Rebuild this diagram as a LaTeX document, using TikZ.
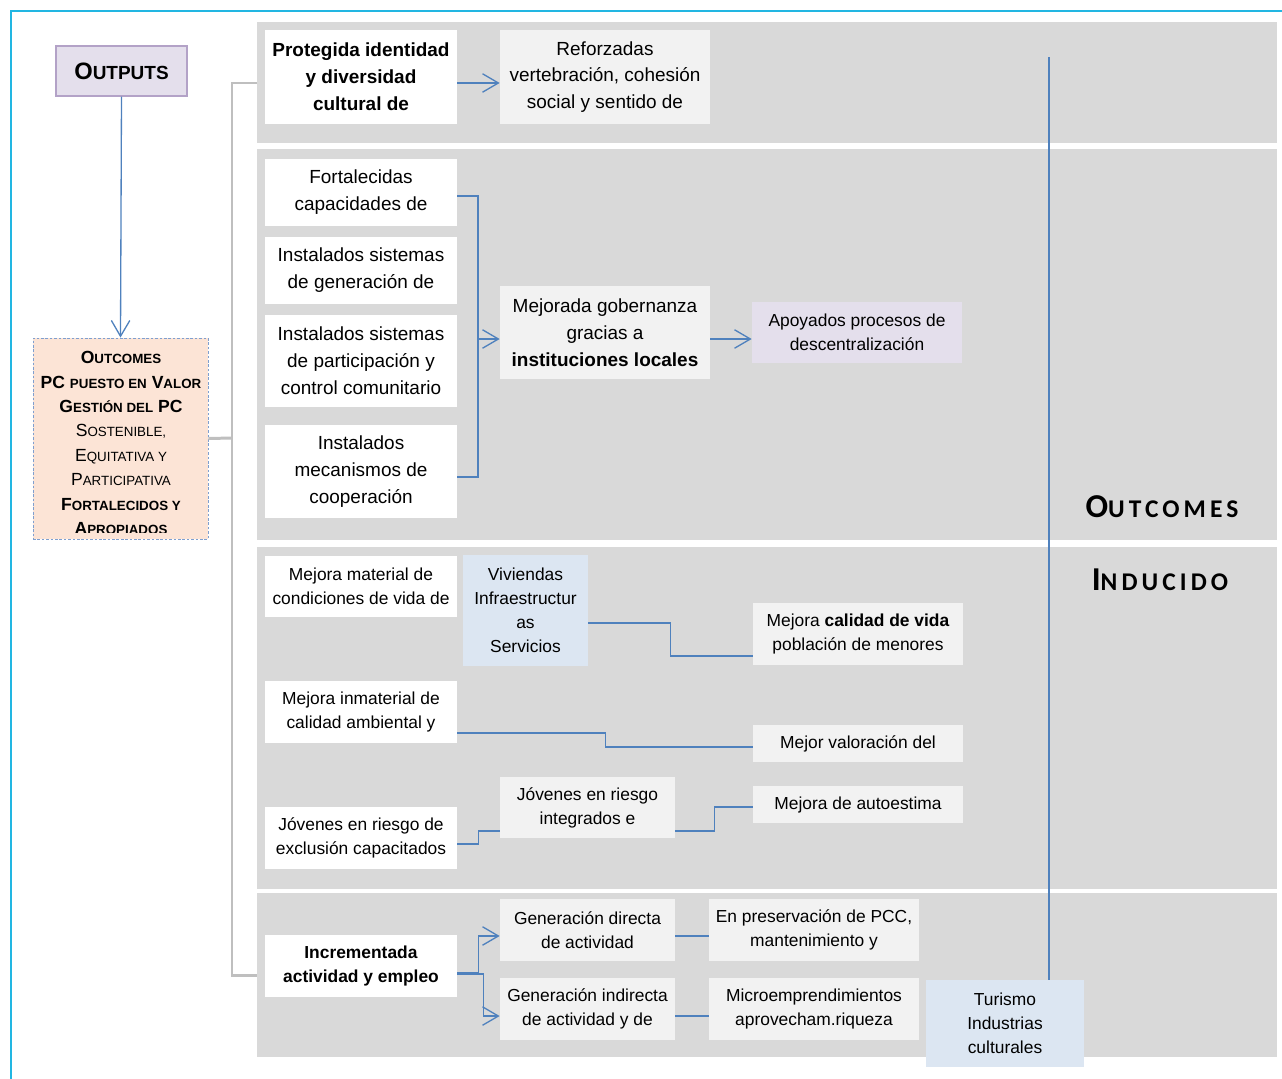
\documentclass[tikz,border=0pt]{standalone}
\usepackage{fontspec}
\setmainfont{Liberation Sans}
\newfontfamily\calib[LetterSpace=16]{Carlito}
\usetikzlibrary{arrows.meta,positioning}

\definecolor{bandgray}{HTML}{D9D9D9}
\definecolor{boxgray}{HTML}{F2F2F2}
\definecolor{lavend}{HTML}{E4DFEC}
\definecolor{lavedge}{HTML}{B3A2C7}
\definecolor{paleblue}{HTML}{DCE6F2}
\definecolor{peach}{HTML}{FCE4D6}
\definecolor{dotblue}{HTML}{7F9FCF}
\definecolor{linkblue}{HTML}{4F81BD}
\definecolor{framecyan}{HTML}{22B6E2}
\definecolor{brackgray}{HTML}{BFBFBF}

\newcommand\txtA{\fontsize{10.8}{15.3}\selectfont}
\newcommand\txtB{\fontsize{9.9}{13.6}\selectfont}
\newcommand\fakesc[2]{{\fontsize{#1}{#1}\selectfont #2}}

\tikzset{
  box/.style={inner sep=0pt, align=center, font=\txtA},
  wbox/.style={box, fill=white},
  gbox/.style={box, fill=boxgray},
  colA/.style={minimum width=3.84cm},
  colB/.style={minimum width=4.2cm},
  colN/.style={minimum width=3.5cm},
  link/.style={draw=linkblue, line width=0.75pt},
  arr/.style={link, -{Straight Barb[length=9pt,width=10.5pt]}},
  brack/.style={draw=brackgray, line width=1.7pt},
  band/.style={fill=bandgray},
}

\begin{document}
\begin{tikzpicture}[x=0.02cm, y=-0.02cm]
\useasboundingbox (0,0) rectangle (1282,1079);

% frame
\draw[framecyan, line width=1.7pt] (11,1079) -- (11,11) -- (1282,11);

% bands
\fill[band] (257,22) rectangle (1277,143);
\fill[band] (257,149) rectangle (1277,540);
\fill[band] (257,547) rectangle (1277,889);
\fill[band] (257,893) rectangle (1277,1057);

% outputs / outcomes
\node[box, fill=lavend, draw=lavedge, line width=0.6pt, minimum width=2.62cm, minimum height=1cm]
  (outp) at (121.5,71) {\textbf{\fakesc{13.5}{O}\fakesc{10.8}{UTPUTS}}};
\node[box, fill=peach, draw=dotblue, line width=0.5pt, dash pattern=on 1.5pt off 1pt,
  minimum width=3.5cm, minimum height=4.02cm] (outc) at (120.5,438.5) {};
\begin{scope}
\clip (36,340) rectangle (206,532);
\node[box, font=\fontsize{10}{13.9}\selectfont, anchor=north] (outct) at (121,351) {%
  \textbf{O\fakesc{7.6}{UTCOMES}}\\
  \textbf{PC \fakesc{7.6}{PUESTO EN} V\fakesc{7.6}{ALOR}}\\
  \textbf{G\fakesc{7.6}{ESTIÓN DEL} PC}\\
  S\fakesc{7.6}{OSTENIBLE,}\\
  E\fakesc{7.6}{QUITATIVA Y}\\
  P\fakesc{7.6}{ARTICIPATIVA}\\
  \textbf{F\fakesc{7.6}{ORTALECIDOS Y}}\\
  \textbf{A\fakesc{7.6}{PROPIADOS}}};
\end{scope}
\draw[arr] (outp.south) -- (outc.north);

% gray bracket
\coordinate (brk) at (232,438);
\coordinate (gtop) at (257,83);
\coordinate (gbot) at (257,975);
\draw[brack] (gtop) -| (brk) |- (gbot);
\draw[brack] (outc.east) -- (brk);

% band 1
\node[wbox, colA, minimum height=1.88cm] (prot) at (361,77)
  {\textbf{Protegida identidad}\\\textbf{y diversidad}\\\textbf{cultural de}};
\node[gbox, colB, minimum height=1.88cm] (refo) at (605,77)
  {Reforzadas\\vertebración, cohesión\\social y sentido de};
\draw[arr] ([yshift=-3.4pt]prot.east) -- ([yshift=-3.4pt]refo.west);

% band 2
\node[wbox, colA, minimum height=1.34cm] (fort) at (361,192.5) {Fortalecidas\\capacidades de};
\node[wbox, colA, minimum height=1.34cm] (isg) at (361,270.5) {Instalados sistemas\\de generación de};
\node[wbox, colA, minimum height=1.84cm] (isp) at (361,361) {Instalados sistemas\\de participación y\\control comunitario};
\node[wbox, colA, minimum height=1.86cm] (imc) at (361,471.5) {Instalados\\mecanismos de\\cooperación};
\node[gbox, colB, minimum height=1.86cm] (mej) at (605,332.5)
  {Mejorada gobernanza\\gracias a\\\textbf{instituciones locales}};
\node[box, fill=lavend, colB, minimum height=1.22cm, font=\txtB] (apo) at (857,332.5)
  {Apoyados procesos de\\descentralización};
\coordinate (jn) at (478,339);
\draw[link] ([yshift=-2pt]fort.east) -| (jn) |- ([yshift=-3.1pt]imc.east);
\draw[arr] (jn) -- (jn -| mej.west);
\draw[arr] (jn -| mej.east) -- (jn -| apo.west);

% band 3
\node[wbox, colA, minimum height=1.22cm, font=\txtB] (mmat) at (361,586.5) {Mejora material de\\condiciones de vida de};
\node[box, fill=paleblue, minimum width=2.5cm, minimum height=2.22cm, font=\txtB] (viv) at (525.5,610.5)
  {Viviendas\\Infraestructur\\as\\Servicios};
\node[gbox, colB, minimum height=1.24cm, font=\txtB] (mcal) at (858,634)
  {Mejora \textbf{calidad de vida}\\población de menores};
\draw[link] ([yshift=-7.1pt]viv.east) -- ++(82,0) |- ([yshift=-12.5pt]mcal.west);

\node[wbox, colA, minimum height=1.24cm, font=\txtB] (minm) at (361,712) {Mejora inmaterial de\\calidad ambiental y};
\node[gbox, colB, minimum height=0.74cm, font=\txtB] (mval) at (858,743.5) {Mejor valoración del};
\draw[link] ([yshift=-11.9pt]minm.east) -- ++(148,0) |- ([yshift=-2pt]mval.west);

\node[wbox, colA, minimum height=1.24cm, font=\txtB] (jrc) at (361,838) {Jóvenes en riesgo de\\exclusión capacitados};
\node[gbox, colN, minimum height=1.22cm, font=\txtB] (jri) at (587.5,807.5) {Jóvenes en riesgo\\integrados e};
\node[gbox, colB, minimum height=0.74cm, font=\txtB] (mauto) at (858,804.5) {Mejora de autoestima};
\draw[link] ([yshift=-3.4pt]jrc.east) -- ++(21,0) |- ([yshift=-13.3pt]jri.west);
\draw[link] ([yshift=-13.3pt]jri.east) -- ++(39,0) |- ([yshift=-1.4pt]mauto.west);

% band 4
\node[wbox, colA, minimum height=1.24cm, font=\txtB] (inc) at (361,966)
  {\textbf{Incrementada}\\\textbf{actividad y empleo}};
\node[gbox, colN, minimum height=1.24cm, font=\txtB] (gdir) at (587.5,930) {Generación directa\\de actividad};
\node[gbox, colN, minimum height=1.24cm, font=\txtB] (gind) at (587.5,1009) {Generación indirecta\\de actividad y de};
\node[gbox, colB, minimum height=1.24cm, font=\txtB] (epre) at (814,930) {En preservación de PCC,\\mantenimiento y};
\node[gbox, colB, minimum height=1.24cm, font=\txtB] (micro) at (814,1009) {Microemprendimientos\\aprovecham.riqueza};
\node[box, fill=paleblue, minimum width=3.16cm, minimum height=1.74cm, font=\txtB] (tur) at (1005,1023.5)
  {Turismo\\Industrias\\culturales};
\draw[arr] ([yshift=-4pt]inc.east) -- ++(21,0) |- ([yshift=-3.4pt]gdir.west);
\draw[arr] ([yshift=-4.5pt]inc.east) -- ++(26,0) |- ([yshift=-4pt]gind.west);
\draw[link] ([yshift=-3.4pt]gdir.east) -- ([yshift=-3.4pt]epre.west);
\draw[link] ([yshift=-4pt]gind.east) -- ([yshift=-4pt]micro.west);

% vertical line and side title
\coordinate (vtop) at (1049,57);
\draw[link, line width=1pt] (vtop) -- (vtop |- tur.north);
\node[inner sep=0pt, font=\calib\bfseries] (outcm) at (1162,507)
  {\fakesc{19}{O}\fakesc{14.5}{UTCOMES}};
\node[inner sep=0pt, font=\calib\bfseries] (indu) at (1160,580)
  {\fakesc{19}{I}\fakesc{14.5}{NDUCIDO}};
\end{tikzpicture}
\end{document}
